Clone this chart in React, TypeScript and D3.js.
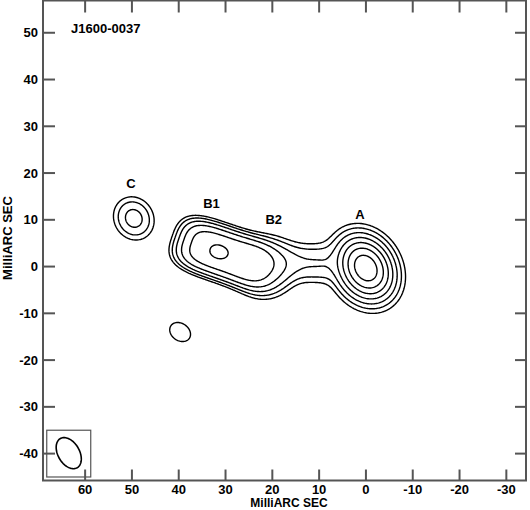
import React, { useMemo } from "react";
import * as d3 from "d3";

const W = 530;
const H = 510;

// Axis domains (milli-arcseconds): x runs east (left) to west (right)
const xDomain = [69.0, -34.2];
const yDomain = [-45.75, 56.9];
const xTicks = [60, 50, 40, 30, 20, 10, 0, -10, -20, -30];
const yTicks = [-40, -30, -20, -10, 0, 10, 20, 30, 40, 50];

// Contour levels (multiples of the lowest contour)
const contourLevels = [1, 2, 4, 8, 16, 32, 64];

// Source model components (mas, peak in units of lowest contour)
const compNames = ["A core", "A halo", "B1", "B envelope", "B2", "bridge", "C", "knot"];
const compX = [0, 0.2, 31.5, 30, 21.5, 13.5, 49.6, 39.7];
const compY = [-0.3, -0.4, 3.2, 2.6, -0.1, 0.8, 10.3, -14.0];
const compPeak = [80, 27, 10, 28, 12.5, 4.1, 5.3, 1.8];
const compSMaj = [2.6, 3.9, 1.5, 7.5, 3, 5.5, 2.6, 2.2];
const compSMin = [2.0, 3.15, 1.2, 3.45, 3, 2.4, 2.3, 1.7];
const compPA = [30, 30, 75, 71, 80, 88, 30, 55];
const compPowMaj = [2, 2, 2, 4, 2, 4, 2, 2];
const compPowMin = [2, 2, 2, 3, 2, 2, 2, 2];

// Component labels
const labelText = ["C", "B1", "B2", "A"];
const labelX = [50.2, 33.0, 19.7, 1.3];
const labelY = [16.8, 12.5, 9.0, 10.2];

// Restoring beam (mas)
const beamX = 63.5;
const beamY = -39.9;
const beamMaj = 3.6;
const beamMin = 2.3;
const beamPA = 30;
const beamBoxX = [68.2, 58.8];
const beamBoxY = [-35.0, -45.0];

const title = "J1600-0037";
const axisLabel = "MilliARC SEC";

export default function App() {
  const xs = d3.scaleLinear().domain(xDomain).range([43, 526]);
  const ys = d3.scaleLinear().domain(yDomain).range([480.5, 0.5]);

  const paths = useMemo(() => {
    const step = 0.2;
    const nx = Math.ceil((xDomain[0] - xDomain[1]) / step) + 1;
    const ny = Math.ceil((yDomain[1] - yDomain[0]) / step) + 1;
    const vals = new Array(nx * ny).fill(0);
    const comps = compX.map((_, k) => {
      const pa = (compPA[k] * Math.PI) / 180;
      return { x: compX[k], y: compY[k], a: compPeak[k], sm: compSMaj[k], sn: compSMin[k], s: Math.sin(pa), c: Math.cos(pa), pm: compPowMaj[k], pn: compPowMin[k] };
    });
    for (let j = 0; j < ny; j++) {
      const y = yDomain[1] - j * step;
      for (let i = 0; i < nx; i++) {
        const x = xDomain[0] - i * step;
        let v = 0;
        for (const k of comps) {
          const dx = x - k.x;
          const dy = y - k.y;
          if (Math.abs(dx) > 30 || Math.abs(dy) > 30) continue;
          const al = (dx * k.s + dy * k.c) / k.sm;
          const ac = (dx * k.c - dy * k.s) / k.sn;
          const q = Math.pow(Math.abs(al), k.pm) + Math.pow(Math.abs(ac), k.pn);
          v += k.a * Math.exp(-0.5 * q);
        }
        vals[j * nx + i] = v;
      }
    }
    const cs = d3.contours().size([nx, ny]).thresholds(contourLevels)(vals);
    const proj = d3.geoTransform({
      point(cx: number, cy: number) {
        (this as any).stream.point(xs(xDomain[0] - (cx - 0.5) * step), ys(yDomain[1] - (cy - 0.5) * step));
      },
    });
    const gp = d3.geoPath(proj);
    return cs.map((c) => gp(c as any) || "");
  }, []);

  const beamPath = useMemo(() => {
    const pa = (beamPA * Math.PI) / 180;
    const pts = d3.range(0, 361, 4).map((deg) => {
      const t = (deg * Math.PI) / 180;
      const a = beamMaj * Math.cos(t);
      const b = beamMin * Math.sin(t);
      const x = beamX + a * Math.sin(pa) + b * Math.cos(pa);
      const y = beamY + a * Math.cos(pa) - b * Math.sin(pa);
      return [xs(x), ys(y)] as [number, number];
    });
    return d3.line()(pts) + "Z";
  }, []);

  const frameColor = "#555";
  const font = "'Liberation Sans', Arial, Helvetica, sans-serif";
  const x0 = xs.range()[0], x1 = xs.range()[1];
  const yb = ys.range()[0], yt = ys.range()[1];

  return (
    <svg width={W} height={H} style={{ position: "absolute", left: 0, top: 0, background: "#fff" }} fontFamily={font} fontWeight="bold">
      <rect x={0} y={0} width={W} height={H} fill="#fff" />
      {paths.map((d, i) => (
        <path key={i} d={d} fill="none" stroke="#000" strokeWidth={1.4} strokeLinejoin="round" />
      ))}
      {/* beam */}
      <rect x={xs(beamBoxX[0])} y={ys(beamBoxY[0])} width={xs(beamBoxX[1]) - xs(beamBoxX[0])} height={ys(beamBoxY[1]) - ys(beamBoxY[0])} fill="none" stroke={frameColor} strokeWidth={1.2} />
      <path d={beamPath} fill="none" stroke="#000" strokeWidth={1.6} />
      {/* frame */}
      <rect x={x0} y={yt} width={x1 - x0} height={yb - yt} fill="none" stroke={frameColor} strokeWidth={2} />
      {xTicks.map((t) => (
        <g key={"xt" + t}>
          <line x1={xs(t)} x2={xs(t)} y1={yb} y2={yb - 11} stroke={frameColor} strokeWidth={2} />
          <line x1={xs(t)} x2={xs(t)} y1={yt} y2={yt + 12} stroke={frameColor} strokeWidth={2} />
          <text x={xs(t)} y={493.7} textAnchor="middle" fontSize={13}>{t}</text>
        </g>
      ))}
      {yTicks.map((t) => (
        <g key={"yt" + t}>
          <line x1={x0} x2={x0 + 12} y1={ys(t)} y2={ys(t)} stroke={frameColor} strokeWidth={2} />
          <line x1={x1} x2={x1 - 11} y1={ys(t)} y2={ys(t)} stroke={frameColor} strokeWidth={2} />
          <text x={38} y={ys(t) + 4.5} textAnchor="end" fontSize={13}>{t}</text>
        </g>
      ))}
      <text x={71} y={33} fontSize={13}>{title}</text>
      {labelText.map((t, i) => (
        <text key={t} x={xs(labelX[i])} y={ys(labelY[i])} textAnchor="middle" fontSize={13}>{t}</text>
      ))}
      <text x={289} y={507.4} textAnchor="middle" fontSize={12}>{axisLabel}</text>
      <text transform="translate(12,238) rotate(-90)" textAnchor="middle" fontSize={13}>{axisLabel}</text>
    </svg>
  );
}
